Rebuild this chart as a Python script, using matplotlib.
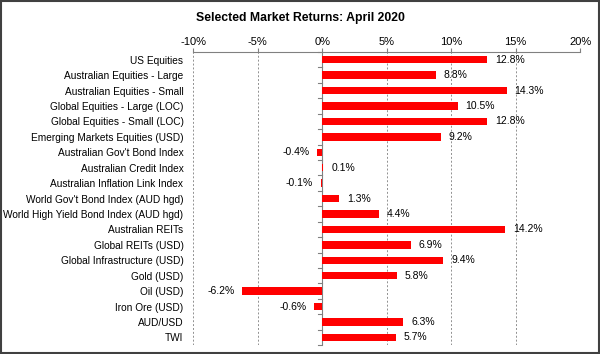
import matplotlib.pyplot as plt
from matplotlib.ticker import FuncFormatter, FixedLocator
from matplotlib.patches import Rectangle

categories = [
    "US Equities",
    "Australian Equities - Large",
    "Australian Equities - Small",
    "Global Equities - Large (LOC)",
    "Global Equities - Small (LOC)",
    "Emerging Markets Equities (USD)",
    "Australian Gov't Bond Index",
    "Australian Credit Index",
    "Australian Inflation Link Index",
    "World Gov't Bond Index (AUD hgd)",
    "World High Yield Bond Index (AUD hgd)",
    "Australian REITs",
    "Global REITs (USD)",
    "Global Infrastructure (USD)",
    "Gold (USD)",
    "Oil (USD)",
    "Iron Ore (USD)",
    "AUD/USD",
    "TWI",
]
returns = [12.8, 8.8, 14.3, 10.5, 12.8, 9.2, -0.4, 0.1, -0.1, 1.3, 4.4,
           14.2, 6.9, 9.4, 5.8, -6.2, -0.6, 6.3, 5.7]
xticks = [-10, -5, 0, 5, 10, 15, 20]

plt.rcParams['font.family'] = ['Liberation Sans', 'DejaVu Sans']

fig = plt.figure(figsize=(6, 3.54), dpi=100)
ax = fig.add_axes([0.322, 0.025, 0.645, 0.828])

y = list(range(len(categories)))
ax.barh(y, returns, height=0.48, color="#ff0000", zorder=3)

for yi, v in zip(y, returns):
    if v >= 0:
        ax.text(v + 0.6, yi, f"{v:.1f}%", va="center", ha="left", fontsize=7.5)
    else:
        ax.text(v - 0.6, yi, f"{v:.1f}%", va="center", ha="right", fontsize=7.5)

ax.set_xlim(-10, 20)
ax.set_ylim(len(categories) - 0.5, -0.5)
ax.xaxis.set_major_locator(FixedLocator(xticks))
ax.xaxis.set_major_formatter(FuncFormatter(lambda v, p: f"{v:.0f}%"))
ax.xaxis.tick_top()
ax.tick_params(axis="x", direction="out", length=3, color="#808080",
               labelsize=8, pad=0.5)
ax.grid(axis="x", color="#909090", linestyle=(0, (2, 2)), linewidth=0.7, zorder=0)

ax.set_yticks(y)
ax.set_yticklabels(categories, fontsize=7.3)
ax.tick_params(axis="y", length=0, pad=7)

for s in ["left", "right", "bottom"]:
    ax.spines[s].set_visible(False)
ax.spines["top"].set_color("#808080")
ax.spines["top"].set_linewidth(0.8)

# category axis at zero with small ticks between categories
ax.axvline(0, color="#808080", linewidth=0.8, zorder=2)
for b in [i - 0.5 for i in range(len(categories) + 1)]:
    ax.plot([-0.35, 0], [b, b], color="#808080", linewidth=0.8, zorder=2,
            clip_on=False)

fig.text(0.5, 0.948, "Selected Market Returns: April 2020", ha="center",
         va="center", fontsize=8.8, fontweight="bold")

fig.patches.append(Rectangle((0.002, 0.003), 0.996, 0.994, transform=fig.transFigure,
                             fill=False, edgecolor="#404040", linewidth=1.5))

fig.savefig("out.png", dpi=100)
